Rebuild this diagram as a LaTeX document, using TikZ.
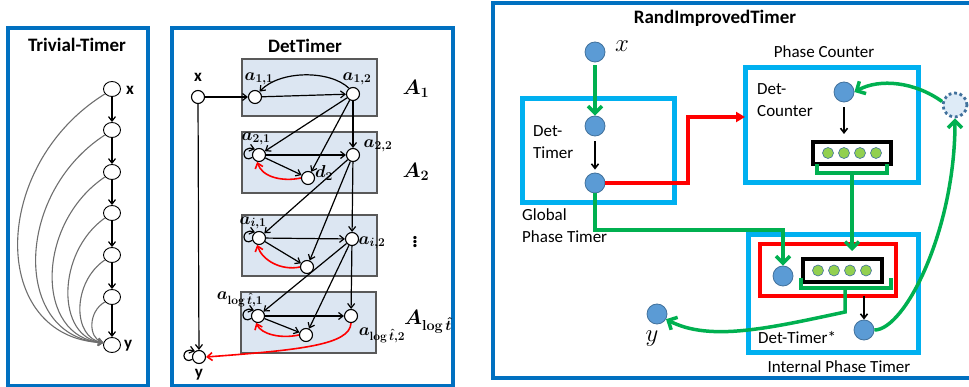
\documentclass[tikz,border=0pt]{standalone}
\usepackage{amsmath}
\usepackage{bm}
\usepackage[no-math]{fontspec}
\setmainfont{Carlito}
\usetikzlibrary{arrows.meta,shapes.geometric}
\definecolor{panelblue}{HTML}{0070C0}
\definecolor{boxfill}{HTML}{DCE6F2}
\definecolor{boxline}{HTML}{595959}
\definecolor{cyanline}{HTML}{00B0F0}
\definecolor{greenline}{HTML}{00B050}
\definecolor{redline}{HTML}{FF0000}
\definecolor{nblue}{HTML}{5B9BD5}
\definecolor{nborder}{HTML}{41719C}
\definecolor{gdot}{HTML}{92D050}
\definecolor{dcfill}{HTML}{DEEBF7}
\definecolor{curvegray}{HTML}{6E6E6E}
\begin{document}
\begin{tikzpicture}[x=1pt,y=-1pt,
  panel/.style={draw=panelblue, line width=3.5pt},
  abox/.style={draw=boxline, fill=boxfill, line width=1.1pt},
  tnode/.style={ellipse, draw=black, fill=white, line width=0.9pt, minimum width=17pt, minimum height=15pt, inner sep=0pt},
  wnode/.style={circle, draw=black, fill=white, line width=1.1pt, minimum size=13pt, inner sep=0pt},
  bnode/.style={circle, draw=nborder, fill=nblue, line width=0.8pt, minimum size=20pt, inner sep=0pt},
  gdotn/.style={circle, draw=nborder, fill=gdot, line width=0.6pt, minimum size=11pt, inner sep=0pt},
  dcnode/.style={circle, draw=nborder, fill=dcfill, line width=2.8pt, dash pattern=on 2.8pt off 2.8pt, minimum size=24pt, inner sep=0pt},
  cyanbox/.style={draw=cyanline, line width=5pt},
  redbox/.style={draw=redline, line width=3.5pt},
  cntbox/.style={draw=black, line width=3.5pt, fill=white},
  barr/.style={-{Straight Barb[length=4.5pt,width=7pt]}, line width=1.2pt},
  gcurve/.style={-{Straight Barb[length=4.5pt,width=6.5pt]}, draw=curvegray, line width=1.1pt},
  rarr/.style={-{Straight Barb[length=5pt,width=8pt]}, draw=redline, line width=1.6pt},
  gpath/.style={draw=greenline, line width=3.5pt},
  garr/.style={gpath, -{Straight Barb[length=7pt,width=14pt]}},
  rpath/.style={draw=redline, line width=3.5pt, -{Triangle[length=9pt,width=10pt]}},
  karr/.style={-{Straight Barb[length=4.5pt,width=7pt]}, line width=1.6pt},
  title/.style={font=\fontsize{19}{21}\selectfont\bfseries, inner sep=0pt},
  txt/.style={font=\fontsize{17}{22}\selectfont, align=left, inner sep=0pt},
  slab/.style={font=\fontsize{17}{17}\selectfont\bfseries, inner sep=0pt},
  mlab/.style={font=\fontsize{18}{18}\selectfont, inner sep=0pt},
  Alab/.style={font=\fontsize{22}{22}\selectfont, inner sep=0pt},
  xylab/.style={font=\fontsize{24}{24}\selectfont, inner sep=0pt},
]
\useasboundingbox (0,0) rectangle (969,387);
\clip (0,0) rectangle (969,387);

% ---------------- Trivial-Timer ----------------
\draw[panel] (8,28) rectangle (148,386);
\node[title, anchor=base] (ttitle) at (77,52) {Trivial-Timer};
\foreach \i/\yy in {1/89,2/130,3/172,4/213,5/255,6/297,7/345}
  \node[tnode] (t\i) at (112,\yy) {};
\node[slab, anchor=west] (tx) at (126,90) {x};
\node[slab, anchor=west] (ty) at (124,346) {y};
\foreach \i/\j in {1/2,2/3,3/4,4/5,5/6,6/7}
  \draw[barr] (t\i) -- (t\j);
\foreach \i/\yy/\c in {1/89/-11,2/130/13,3/172/35,4/213/56,5/255/72,6/297/88}
  \draw[gcurve] (t\i.215) .. controls (\c,{\yy+0.3*(345-\yy)}) and (\c,338) .. (t7.165);

% ---------------- DetTimer ----------------
\draw[panel] (172,28) rectangle (453,386);
\node[title, anchor=base] (dtitle) at (305,53) {DetTimer};
\draw[abox] (242,59) rectangle (377,116);
\draw[abox] (242,132) rectangle (377,193);
\draw[abox] (242,215) rectangle (377,276);
\draw[abox] (241,292) rectangle (376,353);

\node[wnode] (dx) at (198,97) {};
\node[wnode] (a11) at (255,97) {};
\node[wnode] (a12) at (353,94) {};
\node[wnode] (a21) at (259,155) {};
\node[wnode] (a22) at (353,155) {};
\node[wnode] (d2) at (308,178) {};
\node[wnode] (ai1) at (259,238) {};
\node[wnode] (ai2) at (352,239) {};
\node[wnode] (di) at (307,267) {};
\node[wnode] (al1) at (258,316) {};
\node[wnode] (al2) at (351,316) {};
\node[wnode] (dl) at (306,335) {};
\node[wnode] (dy) at (199,357) {};

\node[slab] (lx) at (198,77) {x};
\node[slab] (ly) at (199,375) {y};
\node[mlab] (l11) at (259,79) {$\bm{a}_{\bm{1,1}}$};
\node[mlab] (l12) at (357,79) {$\bm{a}_{\bm{1,2}}$};
\node[mlab] (l21) at (256,139) {$\bm{a}_{\bm{2,1}}$};
\node[mlab] (l22) at (378,146) {$\bm{a}_{\bm{2,2}}$};
\node[mlab] (ld2) at (324,173) {$\bm{d}_{\bm{2}}$};
\node[mlab] (li1) at (253,223) {$\bm{a}_{\bm{i,1}}$};
\node[mlab] (li2) at (372,243) {$\bm{a}_{\bm{i,2}}$};
\node[mlab] (ll1) at (240,299) {$\bm{a}_{\bm{\log\hat{t},1}}$};
\node[mlab] (ll2) at (382,335) {$\bm{a}_{\bm{\log\hat{t},2}}$};
\node[Alab] (A1) at (416,89) {$\bm{A}_{\bm{1}}$};
\node[Alab] (A2) at (416,172) {$\bm{A}_{\bm{2}}$};
\node[Alab] (Ad) at (415,239) {$\bm{\vdots}$};
\node[Alab] (Al) at (428,322) {$\bm{A}_{\bm{\log\hat{t}}}$};

\draw[barr] (dx) -- (a11);
\draw[barr] (dx) -- (dy);
\draw[barr] (a11) -- (a12);
\draw[barr] (a12.125) .. controls (330,70) and (280,70) .. (a11.50);
\draw[barr] (a12) -- (a21);
\draw[barr] (a12) -- (d2);
\draw[barr] (a12) -- (a22);
\draw[barr] (a21) -- (a22);
\draw[barr] (a21) -- (d2);
\draw[barr] (a21.200) .. controls (242,164) and (240,145) .. (a21.125);
\draw[rarr] (d2.west) .. controls (282,182) and (262,177) .. (a21.255);
\draw[barr] (a22) -- (ai1);
\draw[barr] (a22) -- (di);
\draw[barr] (a22) -- (ai2);
\draw[barr] (ai1) -- (ai2);
\draw[barr] (ai1) -- (di);
\draw[barr] (ai1.200) .. controls (242,247) and (240,228) .. (ai1.125);
\draw[rarr] (di.west) .. controls (281,271) and (262,260) .. (ai1.255);
\draw[barr] (ai2) -- (al1);
\draw[barr] (ai2) -- (dl);
\draw[barr] (ai2) -- (al2);
\draw[barr] (al1) -- (al2);
\draw[barr] (al1) -- (dl);
\draw[barr] (al1.200) .. controls (241,325) and (239,306) .. (al1.125);
\draw[rarr] (dl.west) .. controls (280,339) and (261,334) .. (al1.255);
\draw[rarr] (al2.south) .. controls (350,345) and (300,350) .. (dy.east);
\draw[barr] (dy.200) .. controls (182,365) and (180,347) .. (dy.125);

% ---------------- RandImprovedTimer ----------------
\draw[panel] (493,3) rectangle (985,378);
\node[title, anchor=base] (rtitle) at (715,24) {RandImprovedTimer};

% Global phase timer
\draw[cyanbox] (522,99) rectangle (674,203);
\node[bnode] (rx) at (595,52) {};
\node[xylab] (rxl) at (622,46) {$x$};
\node[bnode] (dt1) at (595,126) {};
\node[bnode] (dt2) at (595,183) {};
\node[txt, anchor=base west] (dtl) at (533,159) {Det-\\Timer};
\node[txt, anchor=base west] (gpl) at (522,243) {Global\\Phase Timer};

% Phase counter
\draw[cyanbox] (745,68) rectangle (918,183);
\node[txt, anchor=base] (pcl) at (824,58) {Phase Counter};
\node[txt, anchor=base west] (dcl) at (757,117) {Det-\\Counter};
\node[bnode] (pc) at (844,92) {};
\coordinate (pcend) at (844,134);
\draw[cntbox] (813,142) rectangle (891,164);
\foreach \k/\xx in {1/828,2/844,3/860,4/876}
  \node[gdotn] (c1\k) at (\xx,153) {};
\draw[gpath] (817,164) -- (817,173) -- (887,173) -- (887,164);

% Internal phase timer
\draw[cyanbox] (748,235) rectangle (918,352);
\draw[redbox] (760,244) rectangle (896,296);
\node[bnode] (ipn) at (783,276) {};
\draw[cntbox] (803,259) rectangle (882,282);
\foreach \k/\xx in {1/818,2/834,3/850,4/866}
  \node[gdotn] (c2\k) at (\xx,270.5) {};
\draw[gpath] (801,278) -- (801,288) -- (891,288) -- (891,278);
\node[bnode] (dts) at (864,330) {};
\coordinate (rbbot) at (864,296);
\node[txt, anchor=base west] (dtsl) at (758,343) {Det-Timer*};
\node[txt, anchor=base] (ipl) at (839,372) {Internal Phase Timer};

\node[bnode] (yn) at (657,314) {};
\node[xylab] (ynl) at (652,339) {$y$};
\node[dcnode] (dc) at (955,105) {};

% connectors
\coordinate (b1c) at (852,173);
\coordinate (b1e) at (852,251);
\coordinate (b2c) at (845,288);
\coordinate (b2d) at (845,312);
\coordinate (g1) at (595,230);
\coordinate (g2) at (783,230);
\coordinate (r1) at (688,183);
\coordinate (r2) at (688,117);
\coordinate (r3) at (745,117);

\draw[garr, shorten <=3pt] (rx) -- (dt1);
\draw[karr, shorten <=5pt, shorten >=3pt] (dt1) -- (dt2);
\draw[karr, shorten <=5pt] (pc) -- (pcend);
\draw[rpath] (dt2.east) -- (r1) -- (r2) -- (r3);
\draw[garr] (dt2.south) -- (g1) -- (g2) -- (ipn.north);
\draw[garr] (b1c) -- (b1e);
\draw[garr] (b2c) -- (b2d) .. controls (770,328) and (710,342) .. (yn.-30);
\draw[karr] (rbbot) -- (dts.north);
\draw[garr] (dts.east) .. controls (905,330) and (955,230) .. (dc.south);
\draw[garr] (dc.165) .. controls (915,82) and (880,78) .. (pc.east);
\end{tikzpicture}
\end{document}
